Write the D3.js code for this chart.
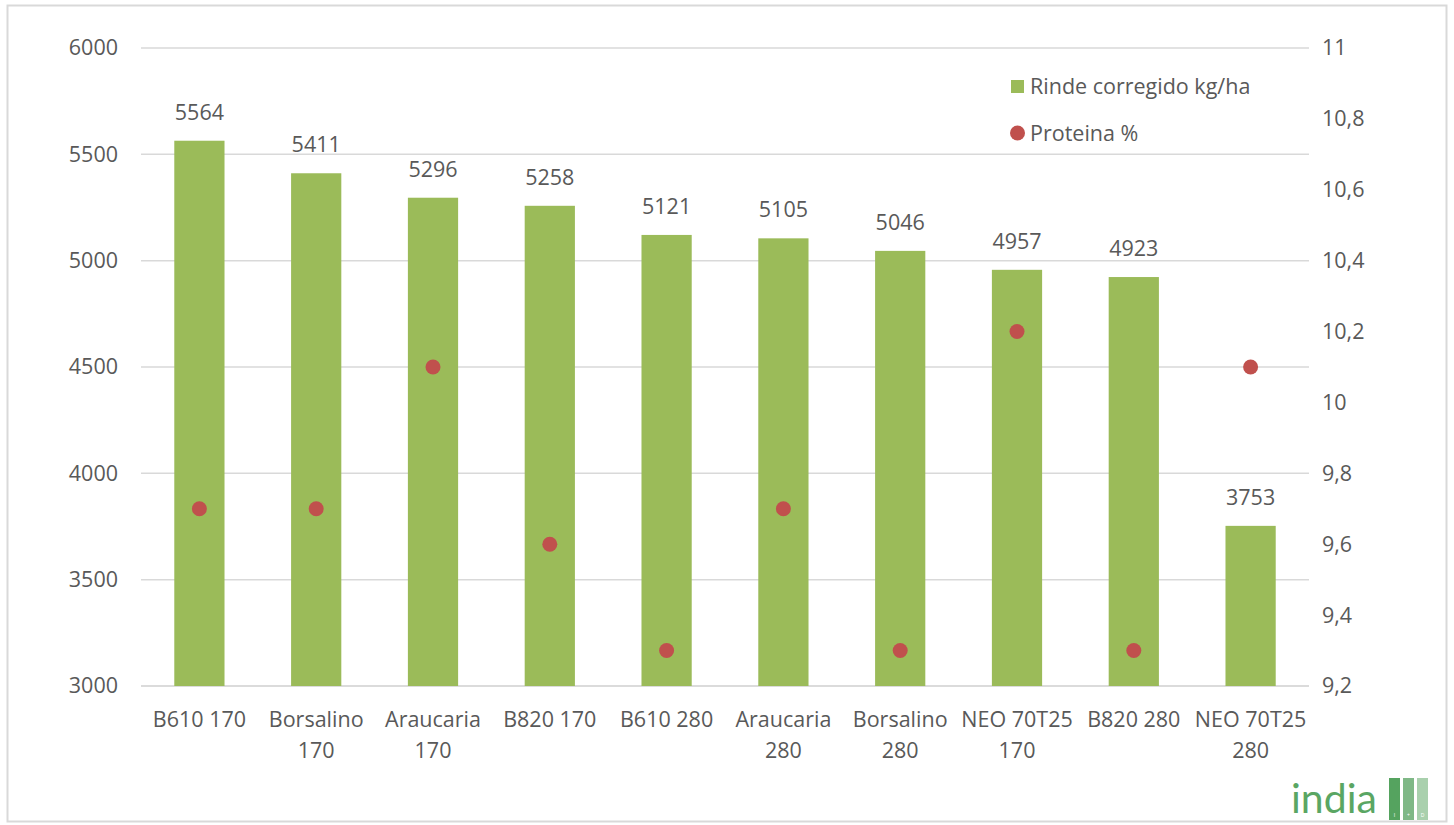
<!DOCTYPE html>
<html>
<head>
<meta charset="utf-8">
<script src="https://d3js.org/d3.v7.min.js"></script>
<style>
  body { margin: 0; background: #fff; }
  text { font-family: "Open Sans", "Liberation Sans", sans-serif; fill: #595959; }
</style>
</head>
<body>
<div id="chart"></div>
<script>
var categories = [["B610 170"], ["Borsalino", "170"], ["Araucaria", "170"], ["B820 170"], ["B610 280"],
                  ["Araucaria", "280"], ["Borsalino", "280"], ["NEO 70T25", "170"], ["B820 280"], ["NEO 70T25", "280"]];
var rinde = [5564, 5411, 5296, 5258, 5121, 5105, 5046, 4957, 4923, 3753];
var proteina = [9.7, 9.7, 10.1, 9.6, 9.3, 9.7, 9.3, 10.2, 9.3, 10.1];
var leftTicks = [3000, 3500, 4000, 4500, 5000, 5500, 6000];
var rightTicks = [9.2, 9.4, 9.6, 9.8, 10, 10.2, 10.4, 10.6, 10.8, 11];

var W = 1454, H = 825;
var m = { left: 141, right: 145, top: 48, bottom: 139 };
var fs = "21.5px";

var svg = d3.select("#chart").append("svg").attr("width", W).attr("height", H);

// outer frame
svg.append("rect").attr("x", 7.5).attr("y", 5.5).attr("width", W - 15).attr("height", H - 9)
    .attr("fill", "none").attr("stroke", "#d9d9d9").attr("stroke-width", 2);

var x = d3.scaleBand().domain(d3.range(categories.length))
    .range([m.left, W - m.right]).paddingInner(0.57).paddingOuter(0.285);
var y = d3.scaleLinear().domain([3000, 6000]).range([H - m.bottom, m.top]);
var y2 = d3.scaleLinear().domain([9.2, 11]).range([H - m.bottom, m.top]);

// gridlines
svg.append("g").selectAll("line").data(leftTicks).enter().append("line")
    .attr("x1", m.left).attr("x2", W - m.right)
    .attr("y1", function (d) { return y(d); }).attr("y2", function (d) { return y(d); })
    .attr("stroke", function (d) { return d === 3000 ? "#cfcfcf" : "#d9d9d9"; })
    .attr("stroke-width", 1.5);

// left axis labels
var leftAxis = d3.axisLeft(y).tickValues(leftTicks).tickSize(0).tickPadding(0).tickFormat(d3.format("d"));
var gl = svg.append("g").attr("transform", "translate(" + (m.left - 23) + ",0)").call(leftAxis);
gl.select(".domain").remove();
gl.selectAll("text").style("font-size", fs).attr("fill", "#595959");

// right axis labels
var rightAxis = d3.axisRight(y2).tickValues(rightTicks).tickSize(0).tickPadding(0)
    .tickFormat(function (d) { return String(d).replace(".", ","); });
var gr = svg.append("g").attr("transform", "translate(" + (W - m.right + 13) + ",0)").call(rightAxis);
gr.select(".domain").remove();
gr.selectAll("text").style("font-size", fs).attr("fill", "#595959");

// bars
svg.append("g").selectAll("rect").data(rinde).enter().append("rect")
    .attr("x", function (d, i) { return x(i); })
    .attr("width", x.bandwidth())
    .attr("y", function (d) { return y(d); })
    .attr("height", function (d) { return y(3000) - y(d); })
    .attr("fill", "#9bbb59");

// value labels
svg.append("g").selectAll("text").data(rinde).enter().append("text")
    .attr("x", function (d, i) { return x(i) + x.bandwidth() / 2; })
    .attr("y", function (d) { return y(d) - 21; })
    .attr("text-anchor", "middle")
    .style("font-size", fs)
    .text(function (d) { return d; });

// protein dots
svg.append("g").selectAll("circle").data(proteina).enter().append("circle")
    .attr("cx", function (d, i) { return x(i) + x.bandwidth() / 2; })
    .attr("cy", function (d) { return y2(d); })
    .attr("r", 7.5)
    .attr("fill", "#c0504d");

// category labels
var cl = svg.append("g").selectAll("text").data(categories).enter().append("text")
    .attr("text-anchor", "middle")
    .style("font-size", fs);
cl.each(function (d, i) {
    var t = d3.select(this);
    d.forEach(function (line, j) {
        t.append("tspan")
            .attr("x", x(i) + x.bandwidth() / 2)
            .attr("y", H - m.bottom + 41 + j * 31)
            .text(line);
    });
});

// legend
var lg = svg.append("g").attr("transform", "translate(1011,0)");
lg.append("rect").attr("x", 0).attr("y", 80).attr("width", 13).attr("height", 13).attr("fill", "#9bbb59");
lg.append("text").attr("x", 19).attr("y", 94).style("font-size", fs).text("Rinde corregido kg/ha");
lg.append("circle").attr("cx", 6.5).attr("cy", 133).attr("r", 7.5).attr("fill", "#c0504d");
lg.append("text").attr("x", 19).attr("y", 141).style("font-size", fs).text("Proteina %");

// logo
var logo = svg.append("g");
logo.append("text").attr("x", 1291).attr("y", 813)
    .style("font-size", "41px").style("font-family", "Lato, 'Open Sans', sans-serif")
    .style("fill", "#5aa663").text("india");
var logoCols = ["#55a35f", "#7fb886", "#a9d0ad"];
var logoTxt = ["I", "+", "D"];
logoCols.forEach(function (c, i) {
    logo.append("rect").attr("x", 1389 + i * 14).attr("y", 778).attr("width", 11).attr("height", 42).attr("fill", c);
    logo.append("text").attr("x", 1394.5 + i * 14).attr("y", 817).attr("text-anchor", "middle")
        .style("font-size", "5px").style("fill", "#fff").text(logoTxt[i]);
});
</script>
</body>
</html>
